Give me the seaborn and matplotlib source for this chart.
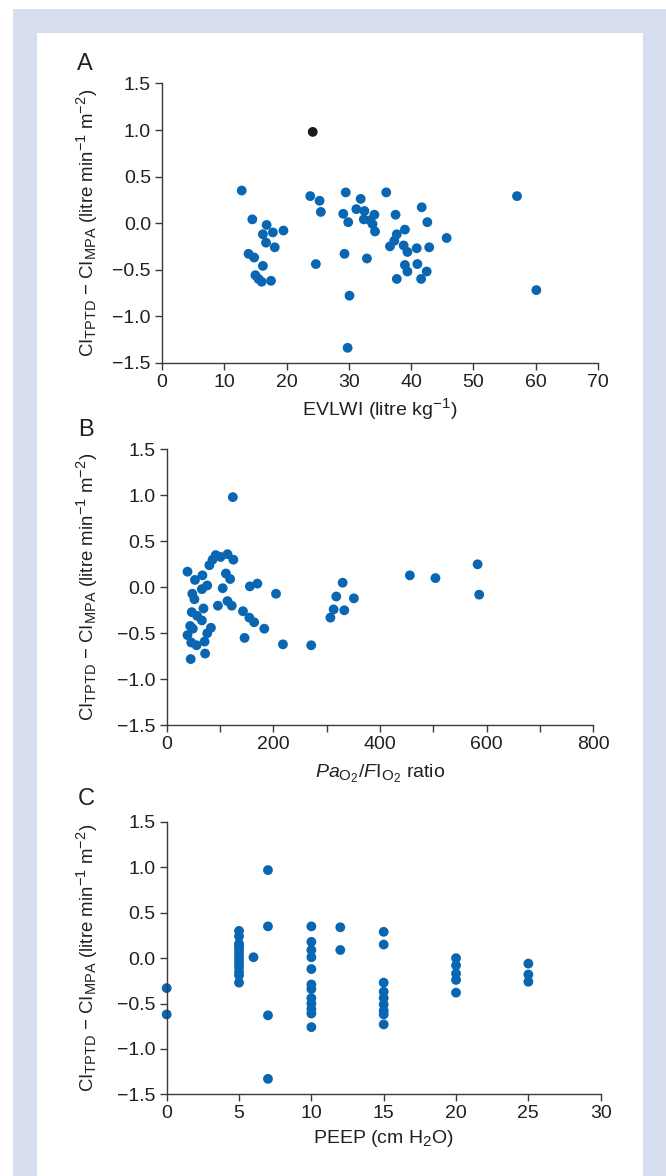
import matplotlib
matplotlib.use("Agg")
import matplotlib.pyplot as plt
import seaborn as sns
import pandas as pd
from matplotlib.patches import Rectangle
from matplotlib.ticker import MultipleLocator

try:
    import matplotlib._mathtext as _mt
    _mt.SHRINK_FACTOR = 0.78
except Exception:
    pass

sns.set_theme(style="ticks")
plt.rcParams['font.family'] = ['Liberation Sans', 'DejaVu Sans']
plt.rcParams['mathtext.fontset'] = 'custom'
plt.rcParams['mathtext.rm'] = 'Liberation Sans'
plt.rcParams['mathtext.it'] = 'Liberation Sans:italic'
plt.rcParams['mathtext.bf'] = 'Liberation Sans:bold'

# ---------------- data ----------------
# Panel A: EVLWI vs CI difference
evlwi = [12.8, 14.5, 16.8, 16.2, 17.8, 19.5, 16.7, 18.1, 13.9, 14.8, 16.2, 15.0, 15.5, 16.0, 17.5,
         23.8, 25.3, 25.5, 24.7,
         29.5, 29.1, 29.9, 29.3, 30.1, 29.8,
         36.0, 31.9, 41.7, 31.2, 32.5, 34.1, 37.5, 32.4, 33.4, 33.8, 42.6, 34.2, 39.0, 37.7,
         37.3, 36.6, 45.7, 38.8, 39.4, 40.9, 42.9, 32.9, 39.0, 41.0, 39.4, 42.5, 37.7, 41.6,
         57.0, 60.1]
diff_a = [0.35, 0.04, -0.02, -0.12, -0.10, -0.08, -0.21, -0.26, -0.33, -0.37, -0.46, -0.56, -0.60, -0.63, -0.62,
          0.29, 0.24, 0.12, -0.44,
          0.33, 0.10, 0.01, -0.33, -0.78, -1.34,
          0.33, 0.26, 0.17, 0.15, 0.13, 0.09, 0.09, 0.04, 0.03, -0.01, 0.01, -0.09, -0.07, -0.12,
          -0.19, -0.25, -0.16, -0.24, -0.31, -0.27, -0.26, -0.38, -0.45, -0.44, -0.52, -0.52, -0.60, -0.60,
          0.29, -0.72]
outlier_evlwi = [24.2]
outlier_diff = [0.98]

# Panel B: PaO2/FIO2 ratio vs CI difference
pf_ratio = [39, 53, 67, 76, 66, 80, 86, 92, 101, 114, 125, 111, 119, 105, 48, 52, 96, 114, 122,
            69, 47, 57, 66, 44, 49, 83, 39, 76, 46, 56, 71, 45, 72,
            143, 155, 164, 183, 146, 156, 170, 205, 218, 271,
            307, 313, 318, 330, 333, 351, 456, 504, 583, 586, 124]
diff_b = [0.17, 0.08, 0.13, 0.02, -0.02, 0.24, 0.30, 0.35, 0.33, 0.36, 0.30, 0.15, 0.09, -0.01, -0.07, -0.13, -0.20, -0.15, -0.20,
          -0.23, -0.27, -0.31, -0.36, -0.42, -0.45, -0.44, -0.52, -0.50, -0.60, -0.63, -0.59, -0.78, -0.72,
          -0.26, -0.33, -0.38, -0.45, -0.55, 0.01, 0.04, -0.07, -0.62, -0.63,
          -0.33, -0.24, -0.10, 0.05, -0.25, -0.12, 0.13, 0.10, 0.25, -0.08, 0.98]

# Panel C: PEEP vs CI difference
peep = [0, 0,
        5, 5, 5, 5, 5, 5, 5, 5, 5, 5, 5, 5, 5,
        6,
        7, 7, 7, 7,
        10, 10, 10, 10, 10, 10, 10, 10, 10, 10, 10, 10,
        12, 12,
        15, 15, 15, 15, 15, 15, 15, 15, 15,
        20, 20, 20, 20, 20,
        25, 25, 25]
diff_c = [-0.33, -0.62,
          0.30, 0.24, 0.16, 0.13, 0.10, 0.06, 0.02, -0.02, -0.06, -0.10, -0.15, -0.19, -0.27,
          0.01,
          0.97, 0.35, -0.63, -1.33,
          0.35, 0.18, 0.09, 0.01, -0.12, -0.29, -0.34, -0.44, -0.50, -0.56, -0.61, -0.76,
          0.34, 0.09,
          0.29, 0.15, -0.27, -0.37, -0.44, -0.51, -0.58, -0.62, -0.73,
          0.00, -0.08, -0.17, -0.24, -0.38,
          -0.06, -0.18, -0.26]

y_ticks = [-1.5, -1.0, -0.5, 0.0, 0.5, 1.0, 1.5]
y_ticklabels = ['\u22121.5', '\u22121.0', '\u22120.5', '0.0', '0.5', '1.0', '1.5']

# ---------------- style ----------------
W, H = 666, 1176
BLUE = '#0866b2'
AXC = '#3a3a3a'
TXT = '#231f20'
FS = 14
YFS = 13.4
YLABEL = r'CI$_{\mathrm{TPTD}}$ $-$ CI$_{\mathrm{MPA}}$ (litre min$^{-1}$ m$^{-2}$)'

fig = plt.figure(figsize=(W / 100, H / 100), dpi=100)
fig.patch.set_facecolor('white')
fig.add_artist(Rectangle((13 / W, 0), 1 - 13 / W, 1 - 9 / H, transform=fig.transFigure,
                         facecolor='#d6ddee', edgecolor='none', zorder=-10))
fig.add_artist(Rectangle((37 / W, 0), (643 - 37) / W, 1 - 33 / H, transform=fig.transFigure,
                         facecolor='white', edgecolor='none', zorder=-9))


def make_axes(left, right, top, bottom):
    ax = fig.add_axes([left / W, 1 - bottom / H, (right - left) / W, (bottom - top) / H])
    ax.patch.set_alpha(0)
    return ax


def style(ax, xlim, xticks, xlabel, letter, ylab_x, letter_xy, minor=None, xpad=4):
    ax.set_xlim(*xlim)
    ax.set_ylim(-1.5, 1.5)
    ax.set_yticks(y_ticks)
    ax.set_yticklabels(y_ticklabels)
    ax.set_xticks(xticks)
    if minor is not None:
        ax.xaxis.set_minor_locator(MultipleLocator(minor))
    sns.despine(ax=ax)
    for s in ['left', 'bottom']:
        ax.spines[s].set_color(AXC)
        ax.spines[s].set_linewidth(1.0)
    ax.tick_params(axis='both', which='major', direction='out', length=5, width=1.0,
                   color=AXC, labelcolor=TXT, labelsize=FS, pad=3)
    ax.tick_params(axis='x', which='minor', direction='out', length=5, width=1.0, color=AXC)
    ax.set_xlabel(xlabel, fontsize=FS, color=TXT, labelpad=xpad)
    ax.set_ylabel(YLABEL, fontsize=YFS, color=TXT)
    ax.yaxis.set_label_coords(ylab_x, 0.5)
    ax.text(letter_xy[0], letter_xy[1], letter, transform=ax.transAxes, fontsize=17, color=TXT,
            ha='center', va='baseline')
    ax.grid(False)


# Panel A
axA = make_axes(162, 598, 83.5, 362.7)
dfA = pd.DataFrame({'x': evlwi, 'y': diff_a})
sns.scatterplot(data=dfA, x='x', y='y', ax=axA, color=BLUE, s=50, edgecolor='none', clip_on=False)
dfA2 = pd.DataFrame({'x': outlier_evlwi, 'y': outlier_diff})
sns.scatterplot(data=dfA2, x='x', y='y', ax=axA, color='#1a1a1a', s=50, edgecolor='none', clip_on=False)
style(axA, (0, 70), [0, 10, 20, 30, 40, 50, 60, 70], r'EVLWI (litre kg$^{-1}$)', 'A',
      -0.143, (-0.177, 1.048))

# Panel B
axB = make_axes(166.7, 593.3, 449.3, 725.3)
dfB = pd.DataFrame({'x': pf_ratio, 'y': diff_b})
sns.scatterplot(data=dfB, x='x', y='y', ax=axB, color=BLUE, s=50, edgecolor='none', clip_on=False)
style(axB, (0, 800), [0, 200, 400, 600, 800],
      r'$\mathit{Pa}_{\mathrm{O_2}}/\mathit{F}\mathrm{I}_{\mathrm{O_2}}$ ratio', 'B',
      -0.157, (-0.189, 1.05), minor=100, xpad=7)

# Panel C
axC = make_axes(166.7, 600.7, 822, 1094.3)
dfC = pd.DataFrame({'x': peep, 'y': diff_c})
sns.scatterplot(data=dfC, x='x', y='y', ax=axC, color=BLUE, s=50, edgecolor='none', clip_on=False)
style(axC, (0, 30), [0, 5, 10, 15, 20, 25, 30], r'PEEP (cm H$_2$O)', 'C',
      -0.154, (-0.186, 1.061))

fig.savefig('out.png', dpi=100)
